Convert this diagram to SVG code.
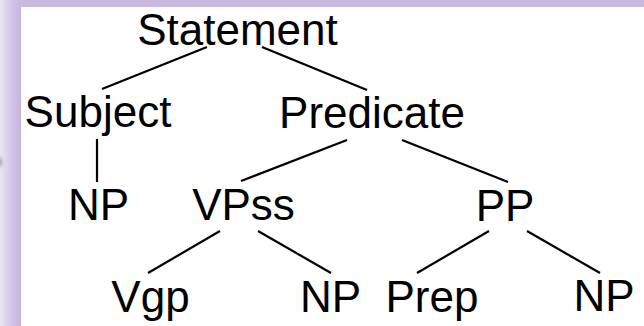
<svg xmlns="http://www.w3.org/2000/svg" width="644" height="326" viewBox="0 0 644 326">
  <defs>
    <linearGradient id="sideBand" x1="0" y1="0" x2="1" y2="0">
      <stop offset="0" stop-color="#ece7f3"/>
      <stop offset="0.55" stop-color="#d4c4e6"/>
      <stop offset="1" stop-color="#c8b5de"/>
    </linearGradient>
    <radialGradient id="smudge" cx="0.5" cy="0.5" r="0.5">
      <stop offset="0" stop-color="#9a96a0" stop-opacity="0.8"/>
      <stop offset="1" stop-color="#c8b5de" stop-opacity="0"/>
    </radialGradient>
    <style>
      .lbl { font-family: "Liberation Sans", Arial, sans-serif; font-size: 44px; fill: #000; text-anchor: middle; }
      .edge { stroke: #000; stroke-width: 2.2; fill: none; stroke-linecap: butt; }
    </style>
  </defs>

  <!-- page background and frame -->
  <rect x="0" y="0" width="644" height="326" fill="#ffffff"/>
  <rect x="0" y="0" width="644" height="7" fill="#cbb9e0"/>
  <rect x="0" y="0" width="21" height="326" fill="url(#sideBand)"/>
  <ellipse cx="0" cy="162" rx="5" ry="8" fill="url(#smudge)"/>

  <!-- tree branches -->
  <g id="connectors">
    <line class="edge" x1="207" y1="47" x2="102" y2="89"/>
    <line class="edge" x1="262" y1="47" x2="367" y2="90"/>
    <line class="edge" x1="97" y1="139" x2="97" y2="182"/>
    <line class="edge" x1="347" y1="140" x2="241" y2="181"/>
    <line class="edge" x1="402" y1="140" x2="508" y2="182"/>
    <line class="edge" x1="220" y1="231" x2="148" y2="273"/>
    <line class="edge" x1="258" y1="231" x2="331" y2="273"/>
    <line class="edge" x1="489" y1="231" x2="417" y2="273"/>
    <line class="edge" x1="527" y1="231" x2="600" y2="273"/>
  </g>

  <!-- tree nodes -->
  <g id="statement"><text class="lbl" x="237.5" y="45">Statement</text></g>
  <g id="subject"><text class="lbl" x="98" y="127">Subject</text></g>
  <g id="predicate"><text class="lbl" x="372" y="128">Predicate</text></g>
  <g id="np-subject"><text class="lbl" x="98.5" y="220">NP</text></g>
  <g id="vpss"><text class="lbl" x="243.5" y="220">VPss</text></g>
  <g id="pp"><text class="lbl" x="505" y="221">PP</text></g>
  <g id="vgp"><text class="lbl" x="150.5" y="312">Vgp</text></g>
  <g id="np-object"><text class="lbl" x="330.5" y="312">NP</text></g>
  <g id="prep"><text class="lbl" x="432" y="312">Prep</text></g>
  <g id="np-pp"><text class="lbl" x="604" y="311">NP</text></g>
</svg>
